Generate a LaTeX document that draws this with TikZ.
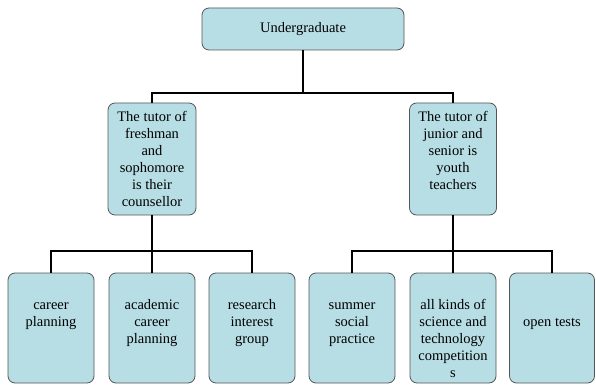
\documentclass[tikz,border=0pt]{standalone}
\usepackage{fontspec}
\setmainfont{Liberation Serif}
\newfontfamily\boxfont{Liberation Serif}
\usepackage{tikz}
\usetikzlibrary{positioning}
\definecolor{boxfill}{RGB}{183,222,229}
\definecolor{boxline}{RGB}{85,85,85}
\tikzset{unit/.style = {draw=boxline,fill=boxfill,rounded corners=7pt,line width=0.8pt,inner sep=0pt,font=\boxfont\fontsize{14.5}{17}\selectfont},
         link/.style = {line width=2pt}}
\newcommand{\boxtext}[4]{\parbox[c][#2][t]{#1}{\vspace*{#3}\centering\strut #4}}

\begin{document}
\begin{tikzpicture}
        \useasboundingbox (0,0) rectangle (596pt,-385pt);
        \begin{scope}
            \node [unit,minimum width=202pt,minimum height=42pt] (ug) at (303pt,-29pt) {Undergraduate};

            \node [unit] (fresh) at (152pt,-159pt)  {\boxtext{88pt}{112pt}{7pt}{The tutor of\\freshman\\and\\sophomore\\is their\\counsellor}};
            \node [unit] (junior) at (453pt,-159pt) {\boxtext{87pt}{112pt}{7pt}{The tutor of\\junior and\\senior is\\youth\\teachers}};

            \node [unit] (career) at (51pt,-328pt)   {\boxtext{86pt}{110pt}{25pt}{career\\planning}};
            \node [unit] (academic) at (152pt,-328pt) {\boxtext{86pt}{110pt}{25pt}{academic\\career\\planning}};
            \node [unit] (research) at (252pt,-328pt) {\boxtext{86pt}{110pt}{25pt}{research\\interest\\group}};
            \node [unit] (summer) at (352pt,-328pt)  {\boxtext{86pt}{110pt}{25pt}{summer\\social\\practice}};
            \node [unit] (contest) at (453pt,-328pt) {\boxtext{86pt}{110pt}{25pt}{all kinds of\\science and\\technology\\competition\\s}};
            \node [unit] (tests) at (552pt,-328pt)   {\boxtext{85pt}{110pt}{42pt}{open tests}};

            \coordinate (jtop) at (303pt,-93pt);
            \coordinate (jleft) at (152pt,-251pt);
            \coordinate (jright) at (453pt,-251pt);

            \draw [link] (ug.south) -- (jtop) -| (fresh.north);
            \draw [link] (jtop) -| (junior.north);
            \draw [link] (fresh.south) -- (jleft) -| (career.north);
            \draw [link] (jleft) -| (research.north);
            \draw [link] (jleft) -- (academic.north);
            \draw [link] (junior.south) -- (jright) -| (summer.north);
            \draw [link] (jright) -| (tests.north);
            \draw [link] (jright) -- (contest.north);
        \end{scope}
    \end{tikzpicture}
\end{document}
